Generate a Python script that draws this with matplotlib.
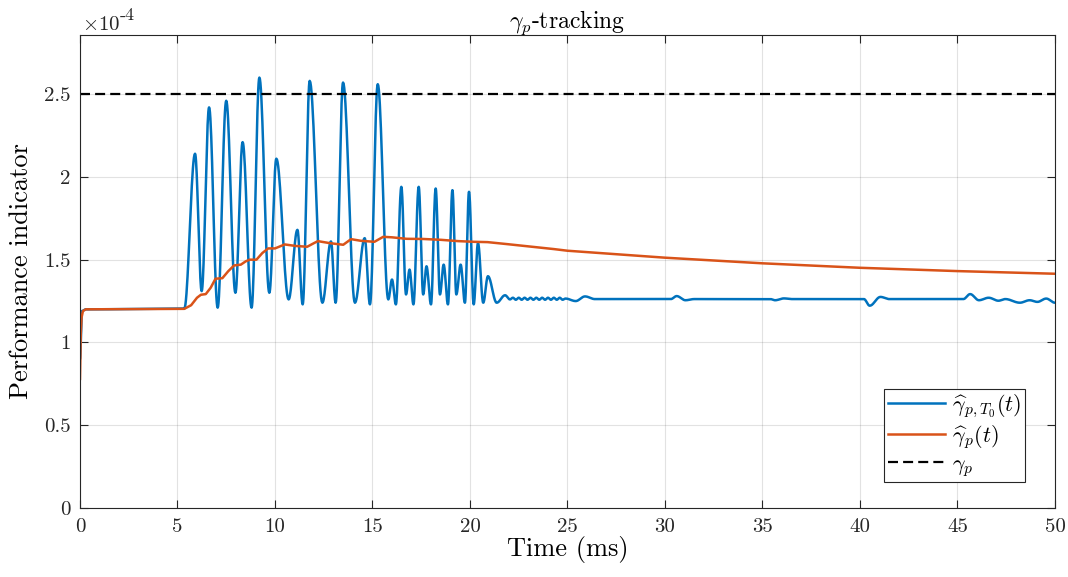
import numpy as np
import matplotlib
matplotlib.use("Agg")
import matplotlib.pyplot as plt

# values in units of 1e-4
# blue: peaks / troughs (time ms, value)
blue_t = [0, 0.1, 0.3, 5.35,
          5.9, 6.24, 6.62, 7.06, 7.5, 7.97, 8.34, 8.8, 9.2, 9.71, 10.07, 10.7,
          11.15, 11.42, 11.78, 12.43, 12.87, 13.11, 13.49, 14.1, 14.6, 14.87,
          15.27, 15.81, 16.0, 16.2, 16.48, 16.72, 16.9, 17.1, 17.37, 17.6,
          17.77, 18.0, 18.24, 18.46, 18.65, 18.87, 19.1, 19.3, 19.52, 19.74,
          19.95, 20.19, 20.41, 20.68, 20.92, 21.37, 21.8, 22.05,
          22.2, 22.35, 22.5, 22.65, 22.8, 22.95, 23.1, 23.25, 23.4, 23.55,
          23.7, 23.85, 24.0, 24.15, 24.3, 24.45, 24.6, 24.75, 24.9,
          25.42, 25.9, 26.4, 30.3, 30.6, 31.05, 31.5, 35.4, 35.65, 36.1, 36.5,
          40.2, 40.5, 41.05, 41.5, 45.3, 45.65, 46.1, 46.6, 47.1, 47.45,
          48.2, 48.7, 49.1, 49.55, 50]
blue_v = [0.9, 1.19, 1.2, 1.205,
          2.14, 1.31, 2.42, 1.21, 2.46, 1.30, 2.21, 1.21, 2.60, 1.30, 2.11, 1.26,
          1.68, 1.23, 2.58, 1.24, 1.61, 1.24, 2.57, 1.24, 1.63, 1.23,
          2.56, 1.26, 1.38, 1.23, 1.94, 1.29, 1.44, 1.23, 1.94, 1.29,
          1.46, 1.23, 1.93, 1.29, 1.47, 1.23, 1.92, 1.29, 1.47, 1.24,
          1.91, 1.23, 1.60, 1.24, 1.40, 1.24, 1.285, 1.26,
          1.27, 1.258, 1.27, 1.258, 1.27, 1.258, 1.27, 1.258, 1.27, 1.258,
          1.27, 1.258, 1.27, 1.258, 1.27, 1.258, 1.27, 1.258, 1.265,
          1.25, 1.278, 1.262, 1.262, 1.28, 1.255, 1.262, 1.262, 1.255, 1.266, 1.262,
          1.262, 1.222, 1.275, 1.262, 1.262, 1.292, 1.255, 1.27, 1.252, 1.262,
          1.24, 1.255, 1.245, 1.265, 1.24]

orange_t = [0, 0.04, 0.08, 0.15, 0.3, 5.35, 5.7, 6.0, 6.2, 6.45, 6.7, 6.95,
            7.3, 7.6, 7.9, 8.25, 8.5, 8.7, 9.05, 9.35, 9.65, 10.0, 10.5, 11.05,
            11.65, 12.0, 12.2, 12.8, 13.5, 13.9, 14.4, 15.1, 15.55, 16.0, 16.75,
            17.6, 18.5, 19.4, 20.2, 20.9, 21.9, 24.3, 25, 30, 35, 40, 45, 50]
orange_v = [0.78, 1.05, 1.15, 1.19, 1.2, 1.203, 1.225, 1.27, 1.288, 1.292, 1.33, 1.385,
            1.388, 1.43, 1.465, 1.47, 1.49, 1.50, 1.50, 1.54, 1.568, 1.568, 1.592, 1.583,
            1.578, 1.60, 1.612, 1.60, 1.59, 1.624, 1.614, 1.608, 1.638, 1.635, 1.626,
            1.625, 1.62, 1.612, 1.608, 1.606, 1.594, 1.564, 1.554, 1.512, 1.478, 1.451, 1.431, 1.415]

gamma_p = 2.5

#helpers

def smooth(t, v, n=20):
    # round the corners between read extrema (cosine easing)
    xs = []
    ys = []
    for i in range(len(t) - 1):
        s = np.linspace(0, 1, n, endpoint=False)
        w = (1 - np.cos(np.pi * s)) / 2
        xs.extend(t[i] + (t[i+1] - t[i]) * s)
        ys.extend(v[i] + (v[i+1] - v[i]) * w)
    xs.append(t[-1])
    ys.append(v[-1])
    return xs, ys

plt.rcParams['font.family'] = ['cmr10', 'DejaVu Serif']
plt.rcParams['mathtext.fontset'] = 'cm'
plt.rcParams['axes.formatter.use_mathtext'] = True

fig = plt.figure(figsize=(10.68, 5.77), dpi=100)
ax = fig.add_axes([0.0749, 0.1196, 0.9129, 0.8197])

bx, by = smooth(blue_t, blue_v)
ax.plot(bx, by, color='#0072BD', lw=1.8, label=r'$\widehat{\gamma}_{p,T_0}(t)$')
ax.plot(orange_t, orange_v, color='#D95319', lw=1.8, label=r'$\widehat{\gamma}_p(t)$')
ax.axhline(gamma_p, color='black', lw=1.6, dashes=(4.5, 2.3), label=r'$\gamma_p$')

ax.set_xlim(0, 50)
ax.set_ylim(0, 2.857)
ax.set_xticks(np.arange(0, 51, 5))
ax.set_xticklabels([str(v) for v in range(0, 51, 5)])
ax.set_yticks([0, 0.5, 1, 1.5, 2, 2.5])
ax.set_yticklabels(['0', '0.5', '1', '1.5', '2', '2.5'])
ax.tick_params(direction='in', top=True, right=True, labelsize=15, length=6,
               color='#262626', labelcolor='#262626', pad=7)
for sp in ax.spines.values():
    sp.set_color('#262626')
    sp.set_linewidth(0.8)
ax.grid(True, color='#262626', alpha=0.13, lw=0.8)

ax.set_xlabel('Time (ms)', fontsize=19, labelpad=0)
ax.set_ylabel('Performance indicator', fontsize=19, labelpad=8)
ax.set_title(r'$\gamma_p$-tracking', fontsize=17, pad=5)
fig.text(82/1068, 1 - 30/577, r'$\times$10', fontsize=15, color='#262626', ha='left', va='baseline')
fig.text(120/1068, 1 - 20/577, '-4', fontsize=13, color='#262626', ha='left', va='baseline')

leg = ax.legend(loc='lower right', bbox_to_anchor=(0.969, 0.055), borderaxespad=0,
                fontsize=16, fancybox=False, framealpha=1, edgecolor='#262626',
                handlelength=2.6, labelspacing=0.15, borderpad=0.15, handletextpad=0.3)
leg.get_frame().set_linewidth(0.8)

plt.savefig('out.png', dpi=100)
